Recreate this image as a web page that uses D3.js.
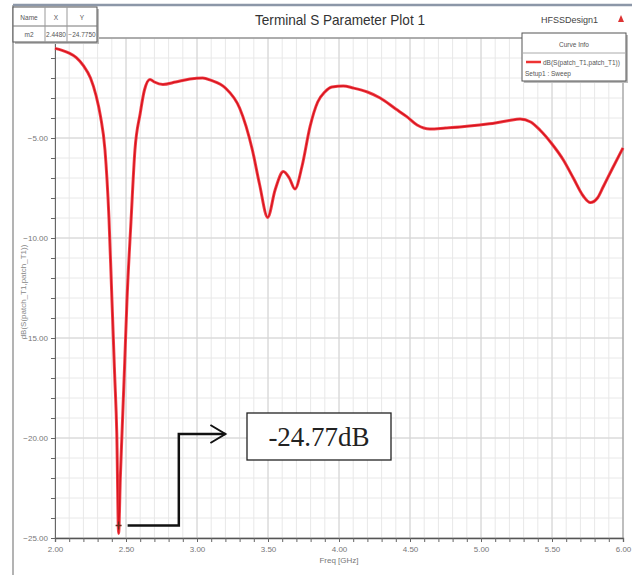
<!DOCTYPE html>
<html>
<head>
<meta charset="utf-8">
<script src="https://cdn.jsdelivr.net/npm/d3@7/dist/d3.min.js"></script>
<style>
  html, body { margin: 0; padding: 0; background: #fff; }
  svg { display: block; }
  .sans { font-family: "Liberation Sans Narrow", "Liberation Sans", Arial, sans-serif; }
  .serif { font-family: "Liberation Serif", "DejaVu Serif", serif; }
</style>
</head>
<body>
<svg id="chart" width="637" height="575" class="sans"></svg>
<script>
// Return loss of the patch antenna, dB(S(patch_T1,patch_T1)) versus frequency
const freqGHz = [2.00, 2.05, 2.10, 2.15, 2.20, 2.25, 2.29, 2.32, 2.352, 2.38, 2.401, 2.42, 2.435, 2.448,
  2.460, 2.472, 2.49, 2.507, 2.535, 2.563, 2.60, 2.63, 2.669, 2.70, 2.76, 2.85, 2.95, 3.04, 3.10,
  3.20, 3.30, 3.39, 3.44, 3.498, 3.55, 3.608, 3.65, 3.69, 3.74, 3.796, 3.85, 3.90, 3.95, 4.03,
  4.10, 4.20, 4.29, 4.40, 4.477, 4.55, 4.64, 4.75, 4.85, 4.99, 5.10, 5.20, 5.275, 5.35, 5.415,
  5.50, 5.58, 5.65, 5.72, 5.77, 5.82, 5.86, 5.92, 5.98, 6.00];
const s11dB = [-0.52, -0.62, -0.76, -0.98, -1.38, -2.0, -2.9, -3.9, -5.6, -9.0, -13.1, -16.8, -19.75, -24.775,
  -22.0, -19.75, -16.4, -13.1, -9.2, -5.6, -3.77, -2.6, -2.07, -2.2, -2.32, -2.2, -2.05, -2.0, -2.12,
  -2.5, -3.5, -5.6, -7.3, -8.97, -7.6, -6.68, -7.0, -7.55, -6.4, -4.43, -3.2, -2.7, -2.45, -2.4,
  -2.5, -2.7, -3.0, -3.55, -3.93, -4.35, -4.55, -4.5, -4.45, -4.35, -4.25, -4.12, -4.05, -4.2, -4.6,
  -5.3, -6.1, -7.0, -7.9, -8.23, -8.0, -7.45, -6.6, -5.77, -5.5];

const xTicks = [2.0, 2.5, 3.0, 3.5, 4.0, 4.5, 5.0, 5.5, 6.0];
const yTicks = [-25, -20, -15, -10, -5];
const markerName = "m2";
const markerX = 2.448;
const markerY = -24.775;
const calloutText = "-24.77dB";

const svg = d3.select("#chart");
const L = 55, R = 623, T = 38, B = 538;

const x = d3.scaleLinear().domain([2, 6]).range([L, R]);
const y = d3.scaleLinear().domain([-25, 0]).range([B, T]);

// Outer window frame
svg.append("line").attr("x1", 13).attr("x2", 13).attr("y1", 5).attr("y2", 575)
  .attr("stroke", "#9a9a9a").attr("stroke-width", 1.5);
svg.append("line").attr("x1", 13).attr("x2", 632).attr("y1", 5).attr("y2", 5)
  .attr("stroke", "#8c97a8").attr("stroke-width", 2.5);

// Grid: minor every 0.1 GHz / 1 dB, major at labelled ticks
const grid = svg.append("g");
d3.range(2.0, 6.0001, 0.1).forEach(f => {
  grid.append("line").attr("x1", x(f)).attr("x2", x(f)).attr("y1", T).attr("y2", B)
    .attr("stroke", "#e8e8e8").attr("stroke-width", 1);
});
d3.range(-25, 0.001, 1).forEach(v => {
  grid.append("line").attr("x1", L).attr("x2", R).attr("y1", y(v)).attr("y2", y(v))
    .attr("stroke", "#e8e8e8").attr("stroke-width", 1);
});
xTicks.forEach(f => {
  grid.append("line").attr("x1", x(f)).attr("x2", x(f)).attr("y1", T).attr("y2", B)
    .attr("stroke", "#d4d4d4").attr("stroke-width", 1);
});
yTicks.concat([0]).forEach(v => {
  grid.append("line").attr("x1", L).attr("x2", R).attr("y1", y(v)).attr("y2", y(v))
    .attr("stroke", "#d4d4d4").attr("stroke-width", 1);
});

// Plot border
svg.append("line").attr("x1", 13).attr("x2", R + 3).attr("y1", T).attr("y2", T)
  .attr("stroke", "#777").attr("stroke-width", 1.2);
svg.append("line").attr("x1", R).attr("x2", R).attr("y1", T).attr("y2", B)
  .attr("stroke", "#999").attr("stroke-width", 1);

// Axes
const xAxis = d3.axisBottom(x).tickValues(d3.range(2.0, 6.0001, 0.1)).tickSize(4)
  .tickFormat(d => xTicks.some(t => Math.abs(t - d) < 1e-6) ? d3.format(".2f")(d) : "");
const gx = svg.append("g").attr("transform", `translate(0,${B})`).call(xAxis);
gx.attr("font-family", null);
gx.select(".domain").attr("stroke", "#555").attr("stroke-width", 1.3);
gx.selectAll(".tick line").attr("stroke", "#666");
gx.selectAll(".tick text").attr("fill", "#777").attr("font-size", 8).attr("dy", "0.9em");

const yAxis = d3.axisLeft(y).tickValues(d3.range(-25, 0.001, 1)).tickSize(4)
  .tickFormat(d => {
    const r = Math.round(d);
    return yTicks.includes(r) ? d3.format(".2f")(r) : "";
  });
const gy = svg.append("g").attr("transform", `translate(${L},0)`).call(yAxis);
gy.attr("font-family", null);
gy.select(".domain").attr("stroke", "#666").attr("stroke-width", 1);
gy.selectAll(".tick line").attr("stroke", "#666");
gy.selectAll(".tick text").attr("fill", "#777").attr("font-size", 8);

// Axis titles
svg.append("text").attr("x", x(4.0)).attr("y", 563).attr("text-anchor", "middle")
  .attr("font-size", 8).attr("fill", "#777").text("Freq [GHz]");
svg.append("text").attr("transform", `translate(26,${y(-12.7)}) rotate(-90)`)
  .attr("text-anchor", "middle").attr("font-size", 8).attr("fill", "#888")
  .text("dB(S(patch_T1,patch_T1))");

// Title and design name
svg.append("text").attr("x", 340).attr("y", 25).attr("text-anchor", "middle")
  .attr("font-size", 14.5).attr("fill", "#333")
  .attr("textLength", 170).attr("lengthAdjust", "spacingAndGlyphs")
  .text("Terminal S Parameter Plot 1");
svg.append("text").attr("x", 598).attr("y", 23).attr("text-anchor", "end")
  .attr("font-size", 9).attr("fill", "#444").text("HFSSDesign1");
svg.append("path").attr("d", "M618,22 L621,15 L624,22 Z").attr("fill", "#d33");

// The S11 curve
const pts = freqGHz.map((f, i) => [f, s11dB[i]]);
const line = d3.line().x(d => x(d[0])).y(d => y(d[1])).curve(d3.curveMonotoneX);
svg.append("path").datum(pts).attr("d", line).attr("fill", "none")
  .attr("stroke", "#f0434b").attr("stroke-width", 3).attr("stroke-linejoin", "round");
svg.append("path").datum(pts).attr("d", line).attr("fill", "none")
  .attr("stroke", "#d8141e").attr("stroke-width", 1.3).attr("stroke-linejoin", "round");

// Marker symbol on the curve
const mx = x(markerX), my = y(markerY) - 8;
svg.append("path").attr("d", `M${mx - 3},${my} L${mx + 3},${my} M${mx},${my - 4} L${mx},${my + 4}`)
  .attr("stroke", "#6a2a1a").attr("stroke-width", 1.3);

// Callout arrow and value box
const cy0 = my, cy1 = y(-19.8);
svg.append("path")
  .attr("d", `M${mx + 9},${cy0} H${x(2.872)} V${cy1} H${x(3.2)}`)
  .attr("fill", "none").attr("stroke", "#111").attr("stroke-width", 2.5);
svg.append("path")
  .attr("d", `M${x(3.2) - 15},${cy1 - 9} L${x(3.2)},${cy1} L${x(3.2) - 15},${cy1 + 9}`)
  .attr("fill", "none").attr("stroke", "#111").attr("stroke-width", 2);
svg.append("rect").attr("x", 247).attr("y", 413).attr("width", 144).attr("height", 47)
  .attr("fill", "#fff").attr("stroke", "#222").attr("stroke-width", 1.3);
svg.append("text").attr("class", "serif").attr("x", 319).attr("y", 446).attr("text-anchor", "middle")
  .attr("font-size", 27).attr("fill", "#222").text(calloutText);

// Marker table
const tbl = svg.append("g");
tbl.append("rect").attr("x", 15).attr("y", 9).attr("width", 84).attr("height", 35).attr("fill", "#bbb");
tbl.append("rect").attr("x", 13).attr("y", 7).attr("width", 84).attr("height", 35)
  .attr("fill", "#fff").attr("stroke", "#555").attr("stroke-width", 1);
tbl.append("line").attr("x1", 13).attr("x2", 97).attr("y1", 26).attr("y2", 26).attr("stroke", "#777");
[45, 67].forEach(cx => tbl.append("line").attr("x1", cx).attr("x2", cx).attr("y1", 7).attr("y2", 42).attr("stroke", "#999"));
[["Name", 29, 20], ["X", 56, 20], ["Y", 82, 20], [markerName, 29, 37],
 [d3.format(".4f")(markerX), 56, 37], [d3.format(".4f")(markerY), 82, 37]].forEach(([t, tx, ty]) => {
  tbl.append("text").attr("x", tx).attr("y", ty).attr("text-anchor", "middle")
    .attr("font-size", 6.5).attr("fill", "#555").text(t);
});

// Curve info legend
const lg = svg.append("g");
lg.append("rect").attr("x", 524).attr("y", 35).attr("width", 104).attr("height", 48).attr("fill", "#bbb");
lg.append("rect").attr("x", 522).attr("y", 33).attr("width", 104).attr("height", 48)
  .attr("fill", "#fff").attr("stroke", "#555").attr("stroke-width", 1);
lg.append("line").attr("x1", 522).attr("x2", 626).attr("y1", 53).attr("y2", 53).attr("stroke", "#aaa");
lg.append("text").attr("x", 574).attr("y", 47).attr("text-anchor", "middle")
  .attr("font-size", 6.5).attr("fill", "#555").text("Curve Info");
lg.append("line").attr("x1", 526).attr("x2", 541).attr("y1", 62).attr("y2", 62)
  .attr("stroke", "#e33").attr("stroke-width", 2.5);
lg.append("text").attr("x", 543).attr("y", 65).attr("font-size", 6.5).attr("fill", "#555")
  .text("dB(S(patch_T1,patch_T1))");
lg.append("text").attr("x", 525).attr("y", 76).attr("font-size", 6.5).attr("fill", "#555")
  .text("Setup1 : Sweep");
</script>
</body>
</html>
